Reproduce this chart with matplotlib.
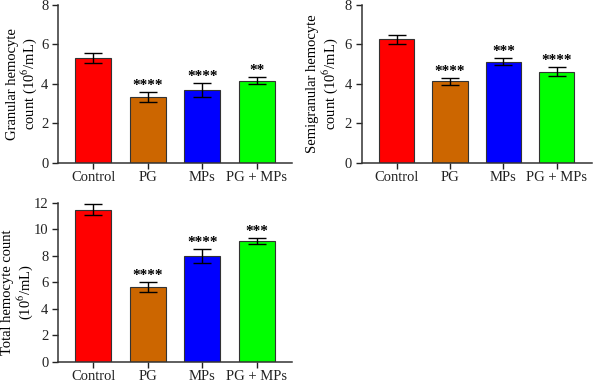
import matplotlib.pyplot as plt
import numpy as np

plt.rcParams["font.family"] = ["Liberation Serif", "DejaVu Serif"]
plt.rcParams["mathtext.fontset"] = "stix"

groups = ["Control", "PG", "MPs", "PG + MPs"]
colors = ["#ff0000", "#cc6600", "#0000ff", "#00ff00"]

granular = [5.31, 3.32, 3.67, 4.16]
granular_err = [0.26, 0.25, 0.36, 0.19]
granular_sig = ["", "****", "****", "**"]

semigranular = [6.26, 4.13, 5.12, 4.62]
semigranular_err = [0.23, 0.18, 0.18, 0.22]
semigranular_sig = ["", "****", "***", "****"]

total = [11.47, 5.65, 8.01, 9.14]
total_err = [0.42, 0.38, 0.53, 0.22]
total_sig = ["", "****", "****", "***"]

fig = plt.figure(figsize=(6, 3.81), dpi=100)


def bar_panel(rect, vals, errs, sig, ylim, yticks, ylabel, label_xy):
    ax = fig.add_axes(rect)
    x = np.arange(len(groups))
    ax.bar(x, vals, width=0.66, color=colors, edgecolor="#333333", lw=0.8, zorder=2)
    ax.errorbar(x, vals, yerr=errs, fmt="none", ecolor="black", elinewidth=1,
                capsize=6.5, capthick=1, zorder=3)
    for xi, v, e, s in zip(x, vals, errs, sig):
        if s:
            ax.annotate(s, (xi, v + e), xytext=(0, 0), textcoords="offset points",
                        ha="center", va="bottom", fontsize=11, fontweight="bold")
    ax.set_xlim(-0.65, 3.65)
    ax.set_ylim(*ylim)
    ax.set_yticks(yticks)
    ax.set_xticks(x)
    ax.set_xticklabels(groups, fontsize=10.5)
    ax.tick_params(axis="y", labelsize=10.5, length=4, width=1, pad=3, colors="#222222")
    ax.tick_params(axis="x", length=4, width=1, pad=2, colors="#222222")
    for sp in ["top", "right"]:
        ax.spines[sp].set_visible(False)
    for sp in ["left", "bottom"]:
        ax.spines[sp].set_linewidth(1.1)
        ax.spines[sp].set_color("#333333")
    ax.set_ylabel(ylabel, fontsize=10.5, linespacing=1.05)
    ax.yaxis.set_label_coords(*label_xy)
    return ax


bar_panel([0.0967, 0.573, 0.39, 0.414], granular, granular_err, granular_sig,
          (0, 8), [0, 2, 4, 6, 8], "Granular hemocyte\ncount (10$^6$/mL)", (-0.08, 0.5))
bar_panel([0.603, 0.573, 0.383, 0.414], semigranular, semigranular_err, semigranular_sig,
          (0, 8), [0, 2, 4, 6, 8], "Semigranular hemocyte\ncount (10$^6$/mL)", (-0.096, 0.5))
bar_panel([0.0967, 0.05, 0.39, 0.418], total, total_err, total_sig,
          (0, 12), [0, 2, 4, 6, 8, 10, 12], "Total hemocyte count\n(10$^6$/mL)", (-0.1, 0.44))

fig.savefig("out.png", dpi=100)
